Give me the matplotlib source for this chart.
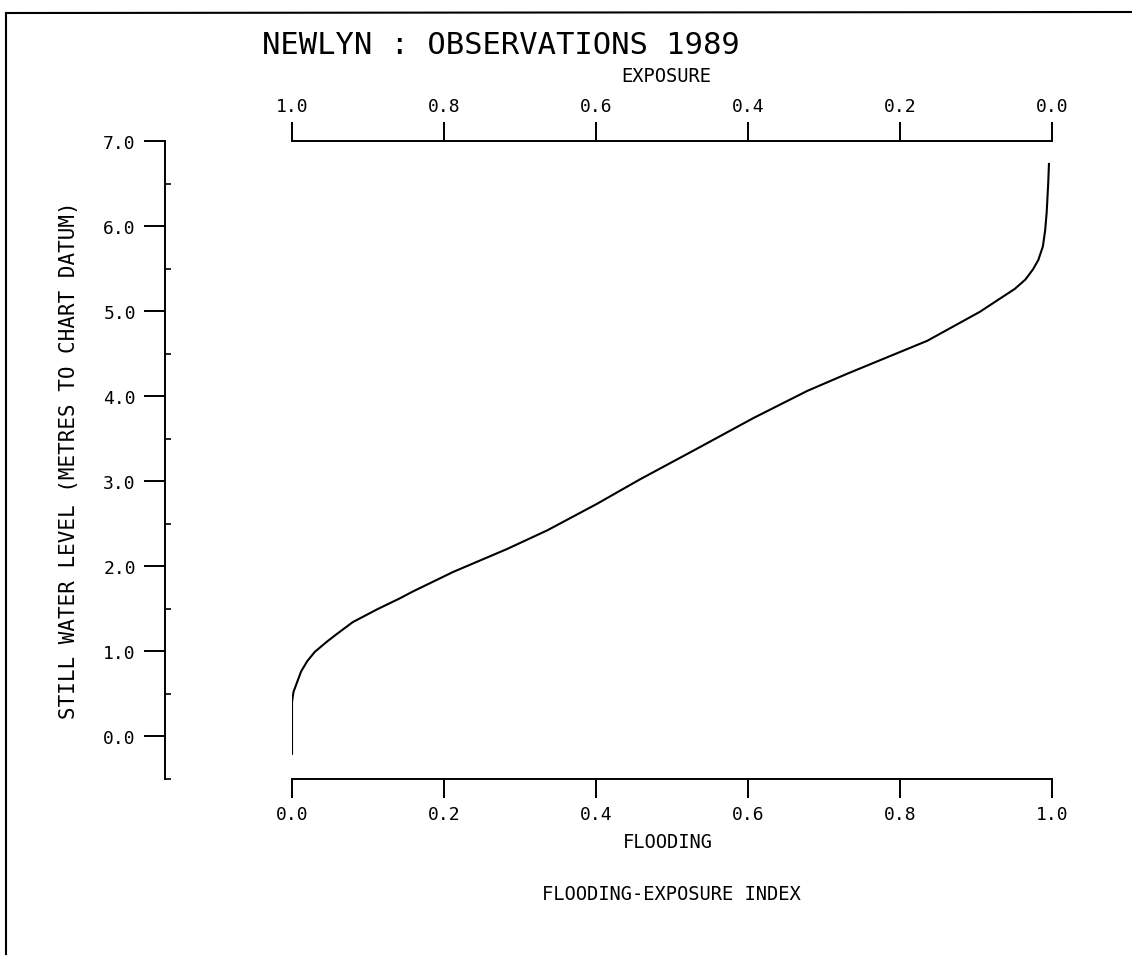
import matplotlib.pyplot as plt
from matplotlib.lines import Line2D
from matplotlib.ticker import MultipleLocator, FormatStrFormatter

# flooding index vs still water level
flooding = [0.000, 0.000, 0.002, 0.007, 0.012, 0.020, 0.030, 0.046, 0.059,
            0.080, 0.112, 0.142, 0.159, 0.212, 0.283, 0.336, 0.401, 0.458,
            0.537, 0.607, 0.678, 0.730, 0.836, 0.905, 0.951, 0.965, 0.975,
            0.982, 0.988, 0.991, 0.993, 0.995, 0.996]
level = [-0.21, 0.40, 0.52, 0.64, 0.76, 0.88, 0.99, 1.11, 1.20,
         1.34, 1.49, 1.62, 1.70, 1.93, 2.20, 2.42, 2.73, 3.02,
         3.40, 3.74, 4.06, 4.26, 4.65, 4.99, 5.26, 5.37, 5.49,
         5.60, 5.76, 5.95, 6.16, 6.50, 6.73]

xticks = [0.0, 0.2, 0.4, 0.6, 0.8, 1.0]

plt.rcParams['font.family'] = 'DejaVu Sans Mono'

W, H = 1132, 962
fig = plt.figure(figsize=(W / 100, H / 100), dpi=100)
ax = fig.add_axes([292 / W, 1 - 779.5 / H, 760 / W, 637.5 / H])

ax.plot(flooding, level, color='black', lw=1.5, solid_joinstyle='round')
ax.set_xlim(0, 1)
ax.set_ylim(-0.5, 7.0)

ax.spines['right'].set_visible(False)
ax.spines['top'].set_visible(False)
ax.spines['left'].set_position(('outward', 127 * 0.72))
for s in ['left', 'bottom']:
    ax.spines[s].set_linewidth(1.4)

ax.yaxis.set_major_locator(MultipleLocator(1.0))
ax.yaxis.set_minor_locator(MultipleLocator(0.5))
ax.yaxis.set_major_formatter(FormatStrFormatter('%.1f'))
ax.tick_params(axis='y', which='major', direction='out', length=15, width=1.4,
               pad=6, labelsize=13)
ax.tick_params(axis='y', which='minor', direction='in', length=4, width=1.2)

ax.set_xticks(xticks)
ax.xaxis.set_major_formatter(FormatStrFormatter('%.1f'))
ax.tick_params(axis='x', direction='out', length=14, width=1.4, pad=5,
               labelsize=13)

# exposure = 1 - flooding on the top axis
secax = ax.secondary_xaxis('top', functions=(lambda x: 1 - x, lambda x: 1 - x))
secax.set_xticks(xticks)
secax.xaxis.set_major_formatter(FormatStrFormatter('%.1f'))
secax.spines['top'].set_linewidth(1.4)
secax.tick_params(axis='x', direction='out', length=14, width=1.4, pad=5,
                  labelsize=13)

fig.text(501 / W, 1 - 46 / H, 'NEWLYN : OBSERVATIONS 1989', fontsize=22,
         ha='center', va='center')
fig.text(666 / W, 1 - 77 / H, 'EXPOSURE', fontsize=13.5, ha='center', va='center')
fig.text(668 / W, 1 - 843 / H, 'FLOODING', fontsize=13.5, ha='center', va='center')
fig.text(671 / W, 1 - 895 / H, 'FLOODING-EXPOSURE INDEX', fontsize=13.5,
         ha='center', va='center')
fig.text(69 / W, 1 - 460 / H, 'STILL WATER LEVEL (METRES TO CHART DATUM)',
         fontsize=15, rotation=90, ha='center', va='center')

# frame lines of the scanned sheet
fig.add_artist(Line2D([6 / W, 1], [1 - 14 / H, 1 - 13 / H], color='black', lw=1.5))
fig.add_artist(Line2D([6 / W, 6 / W], [1 - 14 / H, 1 - 955 / H], color='black', lw=1.5))

fig.savefig('out.png', dpi=100)
